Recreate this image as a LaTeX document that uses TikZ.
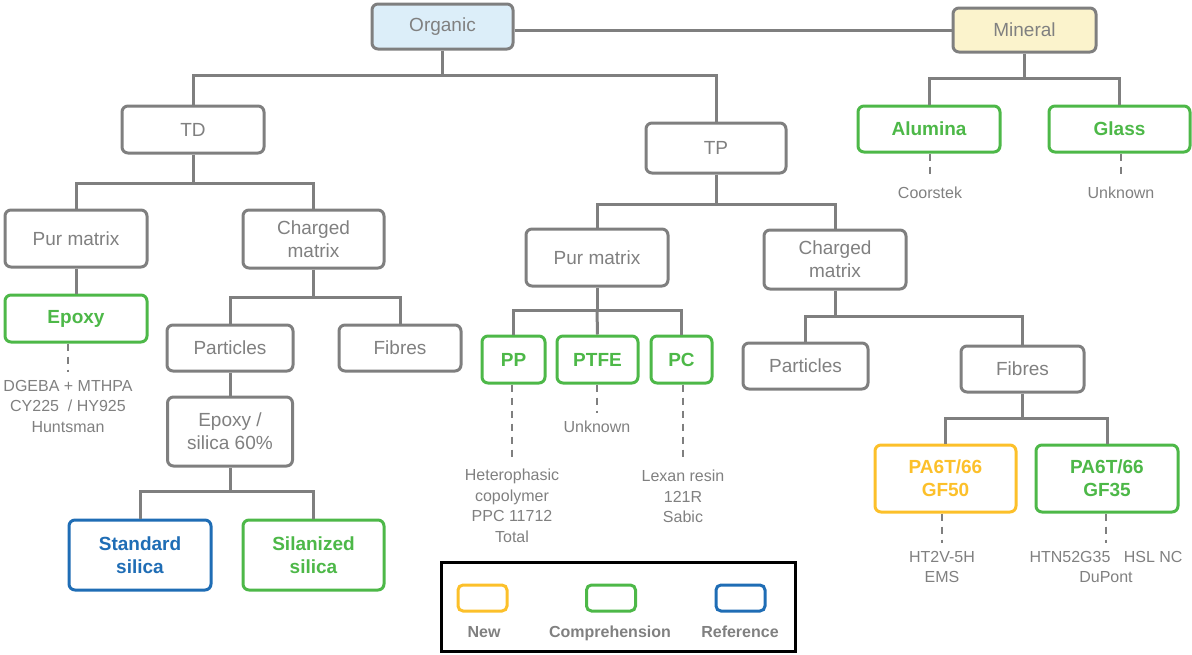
\documentclass[tikz,border=0pt]{standalone}
\usepackage{fontspec}
\setmainfont{Liberation Sans}
\definecolor{linegray}{HTML}{7F7F7F}
\definecolor{txtgray}{HTML}{808080}
\definecolor{cgreen}{HTML}{4DB848}
\definecolor{cblue}{HTML}{1F6DB5}
\definecolor{cyellow}{HTML}{FCC02A}
\definecolor{orgfill}{HTML}{DCEEF9}
\definecolor{minfill}{HTML}{FBF3CC}
\tikzset{
  box/.style={draw=linegray, rounded corners=6pt, line width=3pt, text=txtgray, align=center,
    font=\fontsize{19}{23}\selectfont, inner sep=0pt, fill=white},
  gbox/.style={box, draw=cgreen, text=cgreen, font=\fontsize{19}{23}\selectfont\bfseries},
  bbox/.style={box, draw=cblue, text=cblue, font=\fontsize{19}{23}\selectfont\bfseries},
  ybox/.style={box, draw=cyellow, text=cyellow, font=\fontsize{19}{23}\selectfont\bfseries},
  sz/.style 2 args={minimum width=#1pt, minimum height=#2pt},
  conn/.style={draw=linegray, line width=3pt},
  dashconn/.style={draw=linegray, line width=2.2pt, dash pattern=on 7pt off 6pt, shorten >=8pt},
  sub/.style={text=txtgray, font=\fontsize{16}{20.5}\selectfont, align=center, inner sep=0pt, anchor=north},
  legbox/.style={rounded corners=5pt, line width=3pt, inner sep=0pt, minimum width=49pt, minimum height=26pt},
  leglab/.style={text=txtgray, font=\fontsize{16}{18}\selectfont\bfseries, inner sep=0pt, anchor=base}
}
\begin{document}
\begin{tikzpicture}[x=1pt, y=-1pt]
\useasboundingbox (0,0) rectangle (1192,654);

% top level
\node[box, sz={141}{45}, fill=orgfill] (organic) at (442.5,26.5) {Organic};
\node[box, sz={143}{44}, fill=minfill] (mineral) at (1024.5,30) {Mineral};
\draw[conn] (organic.east |- 0,30) -- (mineral.west |- 0,30);

% organic branch
\node[box, sz={142}{47}] (td) at (193,129.5) {TD};
\node[box, sz={140}{50}] (tp) at (716,148) {TP};
\draw[conn] (organic.south) -- (organic.south |- 0,75) coordinate (ob);
\draw[conn] (ob) -| (td.north);
\draw[conn] (ob) -| (tp.north);

% TD branch
\node[box, sz={142}{57}] (purL) at (76,238.5) {Pur matrix};
\node[box, sz={141}{58}] (chgL) at (313.5,239) {Charged\\matrix};
\draw[conn] (td.south) -- (td.south |- 0,183) coordinate (tdb);
\draw[conn] (tdb) -| (purL.north);
\draw[conn] (tdb) -| (chgL.north);

\node[gbox, sz={142}{47}] (epoxy) at (76,318.5) {Epoxy};
\draw[conn] (purL.south) -- (epoxy.north);
\node[sub] (epoxyinfo) at (68,380) {DGEBA + MTHPA\\CY225~~/ HY925\\Huntsman};
\draw[dashconn] (epoxyinfo.north |- epoxy.south) -- (epoxyinfo.north);

\node[box, sz={126}{46}] (partL) at (230,348) {Particles};
\node[box, sz={122}{46}] (fibL) at (400,348) {Fibres};
\draw[conn] (chgL.south) -- (chgL.south |- 0,297) coordinate (clb);
\draw[conn] (clb) -| (partL.north);
\draw[conn] (clb) -| (fibL.north);

\node[box, sz={125}{69}] (epsil) at (230,431.5) {Epoxy /\\silica 60\%};
\draw[conn] (partL.south) -- (epsil.north);

\node[bbox, sz={142}{70}] (std) at (140,555) {Standard\\silica};
\node[gbox, sz={141}{70}] (sil) at (313.5,555) {Silanized\\silica};
\draw[conn] (epsil.south) -- (epsil.south |- 0,491) coordinate (esb);
\draw[conn] (esb) -| (std.north);
\draw[conn] (esb) -| (sil.north);

% TP branch
\node[box, sz={142}{57}] (purR) at (597,257.5) {Pur matrix};
\node[box, sz={142}{59}] (chgR) at (835,259.5) {Charged\\matrix};
\draw[conn] (tp.south) -- (tp.south |- 0,204) coordinate (tpb);
\draw[conn] (tpb) -| (purR.north);
\draw[conn] (tpb) -| (chgR.north);

\node[gbox, sz={63}{47}] (pp) at (513.5,359.5) {PP};
\node[gbox, sz={81}{47}] (ptfe) at (597.5,359.5) {PTFE};
\node[gbox, sz={61}{47}] (pc) at (681.5,359.5) {PC};
\draw[conn] (purR.south) -- (purR.south |- 0,310) coordinate (prb);
\draw[conn] (prb) -| (pp.north);
\draw[conn] (prb) -- (ptfe.north);
\draw[conn] (prb) -| (pc.north);

\node[sub] (ppinfo) at (512,469) {Heterophasic\\copolymer\\PPC 11712\\Total};
\node[sub] (ptfeinfo) at (597,421) {Unknown};
\node[sub] (pcinfo) at (683,470) {Lexan resin\\121R\\Sabic};
\draw[dashconn] (ppinfo.north |- pp.south) -- (ppinfo.north);
\draw[dashconn] (ptfeinfo.north |- ptfe.south) -- (ptfeinfo.north);
\draw[dashconn] (pcinfo.north |- pc.south) -- (pcinfo.north);

\node[box, sz={125}{46}] (partR) at (805.5,366) {Particles};
\node[box, sz={123}{46}] (fibR) at (1022.5,369) {Fibres};
\draw[conn] (chgR.south) -- (chgR.south |- 0,316) coordinate (crb);
\draw[conn] (crb) -| (partR.north);
\draw[conn] (crb) -| (fibR.north);

\node[ybox, sz={141}{67}] (gf50) at (945.5,478.5) {PA6T/66\\GF50};
\node[gbox, sz={142}{67}] (gf35) at (1107,478.5) {PA6T/66\\GF35};
\draw[conn] (fibR.south) -- (fibR.south |- 0,418) coordinate (frb);
\draw[conn] (frb) -| (gf50.north);
\draw[conn] (frb) -| (gf35.north);

\node[sub] (gf50info) at (942,551) {HT2V-5H\\EMS};
\node[sub] (gf35info) at (1106,551) {HTN52G35~~~HSL NC\\DuPont};
\draw[dashconn] (gf50info.north |- gf50.south) -- (gf50info.north);
\draw[dashconn] (gf35info.north |- gf35.south) -- (gf35info.north);

% mineral branch
\node[gbox, sz={142}{46}] (alumina) at (929,129) {Alumina};
\node[gbox, sz={141}{46}] (glass) at (1119.5,129) {Glass};
\draw[conn] (mineral.south) -- (mineral.south |- 0,78) coordinate (mb);
\draw[conn] (mb) -| (alumina.north);
\draw[conn] (mb) -| (glass.north);

\node[sub] (aluinfo) at (930,187) {Coorstek};
\node[sub] (glassinfo) at (1121,187) {Unknown};
\draw[dashconn] (aluinfo.north |- alumina.south) -- (aluinfo.north);
\draw[dashconn] (glassinfo.north |- glass.south) -- (glassinfo.north);

% legend
\node[draw=black, line width=2.5pt, minimum width=354pt, minimum height=89pt, inner sep=0pt] (legend) at (618.5,607) {};
\node[legbox, draw=cyellow] (legnew) at (482.5,598) {};
\node[legbox, draw=cgreen] (legcomp) at (611,598) {};
\node[legbox, draw=cblue] (legref) at (740.5,598) {};
\node[leglab] (labnew) at (484,637) {New};
\node[leglab] (labcomp) at (610,637) {Comprehension};
\node[leglab] (labref) at (740,637) {Reference};
\end{tikzpicture}
\end{document}
